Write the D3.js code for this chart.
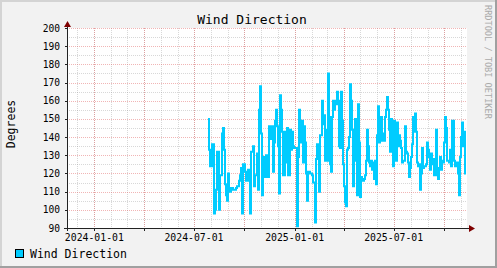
<!DOCTYPE html>
<html>
<head>
<meta charset="utf-8">
<title>Wind Direction</title>
<script src="https://cdn.jsdelivr.net/npm/d3@7"></script>
<style>
  body { margin: 0; background: #f2f2f2; }
  svg text { font-family: "DejaVu Sans Mono", monospace; }
</style>
</head>
<body>
<svg id="chart" width="497" height="268"></svg>
<script>
// time window of the graph
const domainStart = "2023-11-12";
const domainEnd = "2025-11-12";
// first sample and sample spacing (one sample per pixel column)
const sampleStart = "2024-07-26T16:00:00Z";
const sampleHours = 43.86;

// wind direction samples, degrees
const windDirection = [
  150,133,124,124,136,136,98,100,111,132,132,100,119,119,142,145,133,114,108,105,
  120,110,110,112,112,111,111,111,112,113,113,116,119,123,98,125,125,121,116,116,
  122,122,98,132,132,135,113,119,119,131,111,155,168,142,108,129,118,118,130,127,
  118,146,139,139,146,121,137,149,155,146,135,109,163,155,143,119,119,143,126,145,
  119,119,144,133,143,135,134,134,134,91,129,155,146,137,149,126,146,137,120,105,
  121,121,120,120,119,115,115,93,128,136,129,110,141,141,160,147,152,127,144,127,
  175,151,125,121,151,160,155,160,158,165,160,135,134,165,149,125,113,104,102,133,
  134,140,169,160,144,113,137,150,127,108,158,137,107,118,116,116,117,119,127,144,
  135,126,124,127,122,126,117,127,114,141,157,137,138,151,138,142,138,151,155,162,
  155,144,132,150,138,124,149,135,127,148,135,141,138,134,126,127,127,146,132,131,
  126,118,123,129,136,151,143,153,143,126,124,125,111,120,134,123,124,124,125,137,
  133,129,122,131,125,128,119,127,144,119,117,123,129,122,127,126,137,151,145,127,
  127,126,133,124,149,149,127,124,124,126,120,108,129,140,148,135,143,120
];

const yTickValues = [90,100,110,120,130,140,150,160,170,180,190,200];
const yMinorValues = [95,105,115,125,135,145,155,165,175,185,195];
const xTickLabels = ["2024-01-01","2024-07-01","2025-01-01","2025-07-01"];

const W = 497, H = 268;
const pLeft = 67, pRight = 467, pTop = 28, pBottom = 228;
const lineColor = "#00ccff";

const svg = d3.select("#chart");

// background + 3d frame
svg.append("rect").attr("width", W).attr("height", H).attr("fill", "#f2f2f2");
svg.append("rect").attr("x", 0).attr("y", 0).attr("width", W).attr("height", 2).attr("fill", "#d4d4d4");
svg.append("rect").attr("x", 0).attr("y", 0).attr("width", 2).attr("height", H).attr("fill", "#d4d4d4");
svg.append("rect").attr("x", 0).attr("y", H - 2).attr("width", W).attr("height", 2).attr("fill", "#a0a0a0");
svg.append("rect").attr("x", W - 2).attr("y", 0).attr("width", 2).attr("height", H).attr("fill", "#a0a0a0");

// canvas
svg.append("rect").attr("x", pLeft).attr("y", pTop)
  .attr("width", pRight - pLeft).attr("height", pBottom - pTop).attr("fill", "#ffffff");

const x = d3.scaleUtc()
  .domain([new Date(domainStart), new Date(domainEnd)])
  .range([pLeft, pRight]);
const y = d3.scaleLinear().domain([90, 200]).range([pBottom, pTop]);

const grid = svg.append("g").attr("shape-rendering", "crispEdges");

// minor grid
const months = d3.utcMonth.range(x.domain()[0], x.domain()[1]);
grid.selectAll("line.vmin").data(months).enter().append("line")
  .attr("x1", d => Math.round(x(d)) + 0.5).attr("x2", d => Math.round(x(d)) + 0.5)
  .attr("y1", pTop).attr("y2", pBottom)
  .attr("stroke", "#8f8f8f").attr("stroke-opacity", 0.35).attr("stroke-dasharray", "1,1");
grid.selectAll("line.hmin").data(yMinorValues).enter().append("line")
  .attr("y1", d => Math.round(y(d)) + 0.5).attr("y2", d => Math.round(y(d)) + 0.5)
  .attr("x1", pLeft).attr("x2", pRight)
  .attr("stroke", "#8f8f8f").attr("stroke-opacity", 0.35).attr("stroke-dasharray", "1,1");

// major grid
const quarters = d3.utcMonth.every(3).range(x.domain()[0], x.domain()[1]);
grid.selectAll("line.vmaj").data(quarters).enter().append("line")
  .attr("x1", d => Math.round(x(d)) + 0.5).attr("x2", d => Math.round(x(d)) + 0.5)
  .attr("y1", pTop).attr("y2", pBottom)
  .attr("stroke", "#e05a5a").attr("stroke-opacity", 0.45).attr("stroke-dasharray", "1,1");
grid.selectAll("line.hmaj").data(yTickValues).enter().append("line")
  .attr("y1", d => Math.round(y(d)) + 0.5).attr("y2", d => Math.round(y(d)) + 0.5)
  .attr("x1", pLeft).attr("x2", pRight)
  .attr("stroke", "#e05a5a").attr("stroke-opacity", 0.45).attr("stroke-dasharray", "1,1");

// data line
const t0 = new Date(sampleStart).getTime();
const pts = windDirection.map((v, i) => ({ t: new Date(t0 + i * sampleHours * 3600e3), v: v }));
pts.push({ t: new Date(t0 + windDirection.length * sampleHours * 3600e3), v: windDirection[windDirection.length - 1] });
const line = d3.line().x(d => x(d.t)).y(d => y(d.v)).curve(d3.curveStepAfter);
svg.append("path").datum(pts)
  .attr("d", line)
  .attr("fill", "none")
  .attr("stroke", lineColor)
  .attr("stroke-width", 2)
  .attr("stroke-linejoin", "miter");

// axes
const axis = svg.append("g").attr("shape-rendering", "crispEdges");
axis.append("line").attr("x1", pLeft + 0.5).attr("x2", pLeft + 0.5).attr("y1", pTop - 3).attr("y2", pBottom + 3)
  .attr("stroke", "#222");
axis.append("line").attr("x1", pLeft - 3).attr("x2", pRight + 3).attr("y1", pBottom + 0.5).attr("y2", pBottom + 0.5)
  .attr("stroke", "#222");
axis.selectAll("line.yt").data(yTickValues).enter().append("line")
  .attr("x1", pLeft - 2).attr("x2", pLeft)
  .attr("y1", d => Math.round(y(d)) + 0.5).attr("y2", d => Math.round(y(d)) + 0.5)
  .attr("stroke", "#222");
axis.selectAll("line.xt").data(quarters).enter().append("line")
  .attr("x1", d => Math.round(x(d)) + 0.5).attr("x2", d => Math.round(x(d)) + 0.5)
  .attr("y1", pBottom + 1).attr("y2", pBottom + 3)
  .attr("stroke", "#222");

// arrows
svg.append("path")
  .attr("d", `M${pLeft - 3},${pTop - 1} L${pLeft + 4},${pTop - 1} L${pLeft + 0.5},${pTop - 7} Z`)
  .attr("fill", "#7f0000");
svg.append("path")
  .attr("d", `M${pRight + 2},${pBottom - 3} L${pRight + 2},${pBottom + 4} L${pRight + 8},${pBottom + 0.5} Z`)
  .attr("fill", "#7f0000");

// y tick labels
svg.selectAll("text.yl").data(yTickValues).enter().append("text")
  .attr("x", 60).attr("y", d => y(d) + 3.5)
  .attr("text-anchor", "end")
  .attr("font-size", "9.6px")
  .text(d => d);

// x tick labels
svg.selectAll("text.xl").data(xTickLabels).enter().append("text")
  .attr("x", d => x(new Date(d)))
  .attr("y", 241)
  .attr("text-anchor", "middle")
  .attr("font-size", "9.8px")
  .text(d => d);

// title
svg.append("text").attr("x", 252).attr("y", 23.5).attr("text-anchor", "middle")
  .attr("font-size", "13px").text("Wind Direction");

// vertical axis label
svg.append("text")
  .attr("transform", "translate(15,124) rotate(-90)")
  .attr("text-anchor", "middle")
  .attr("font-size", "11.5px")
  .text("Degrees");

// watermark
svg.append("text")
  .attr("transform", "translate(485,5) rotate(90)")
  .attr("font-size", "8.6px")
  .attr("fill", "#aaaaaa")
  .text("RRDTOOL / TOBI OETIKER");

// legend
svg.append("rect").attr("x", 15.5).attr("y", 249.5).attr("width", 8).attr("height", 8)
  .attr("fill", lineColor).attr("stroke", "#000").attr("stroke-width", 1);
svg.append("text").attr("x", 30).attr("y", 258)
  .attr("font-size", "11.5px").text("Wind Direction");
</script>
</body>
</html>
